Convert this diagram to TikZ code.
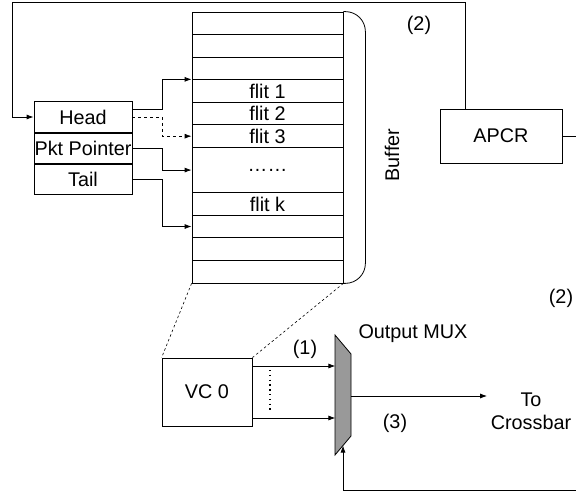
\documentclass[tikz,border=0pt]{standalone}
\usepackage{fontspec}
\setmainfont{Liberation Sans}
\usetikzlibrary{arrows.meta}

\begin{document}
\begin{tikzpicture}[
    x=1pt, y=-1pt,
    font=\fontsize{19.8}{23}\selectfont,
    line width=0.8pt,
    slot/.style={draw, minimum width=151pt, minimum height=22.58pt, inner sep=0pt},
    field/.style={draw, minimum width=98pt, minimum height=30.33pt, inner sep=0pt},
    blk/.style={draw, inner sep=0pt},
    arr/.style={-{Latex[length=7pt,width=5pt]}},
    guide/.style={dash pattern=on 2.5pt off 2.5pt, line width=0.6pt}
  ]
  \useasboundingbox (0,0) rectangle (576,492);

  % buffer slots
  \foreach \i/\t in {1/,2/,3/,4/flit 1,5/flit 2,6/flit 3,9/flit k,10/,11/,12/}
    \node[slot] (r\i) at (267.5,{12+22.58*(\i-0.5)}) {\t};
  \node[slot, minimum height=45.16pt] (r7) at (267.5,{12+22.58*7}) {……};
  \draw[rounded corners=20pt] (r1.north east) -| ([xshift=22pt]r7.east) |- (r12.south east);
  \node[rotate=90] (buflabel) at (392,155) {Buffer};

  % pointer fields
  \node[field] (head) at (83,117) {Head};
  \node[field, anchor=north] (pkt) at (head.south) {Pkt Pointer};
  \node[field, anchor=north] (tail) at (pkt.south) {Tail};

  \draw[arr] ([yshift=8pt]head.east) -- ++(30,0) |- (r4.north west);
  \draw[arr, dashed] (head.east) -- ++(30,0) |- (r6.west);
  \draw[arr] (pkt.east) -- ++(30,0) |- (r7.west);
  \draw[arr] (tail.east) -- ++(30,0) |- (r10.west);

  % APCR
  \node[blk, minimum width=122pt, minimum height=54pt] (apcr) at (501,136) {APCR};
  \coordinate (loop) at (12,2);
  \draw[arr] ([xshift=-36pt]apcr.north) |- (loop) |- (head.west);
  \coordinate (apcr-out) at (576,136);
  \draw (apcr.east) -- (apcr-out);
  \node (lbl2a) at (419,25) {(2)};
  \node (lbl2b) at (561,298) {(2)};

  % VC and mux
  \node[blk, minimum width=90pt, minimum height=68pt] (vc0) at (207,392) {VC 0};
  \draw[guide] (r12.south west) -- (vc0.north west);
  \draw[guide] (r12.south east) -- (vc0.north east);
  \draw[fill=black!40] (335,335) coordinate (mux-tl) -- (351,354) coordinate (mux-tr)
    -- (351,436) coordinate (mux-br) -- (335,455) coordinate (mux-bl) -- cycle;
  \node (muxlabel) at (413,334) {Output MUX};
  \node (lbl1) at (305,349) {(1)};
  \draw[arr] ([yshift=26pt]vc0.east) -- ++(83,0);
  \draw[arr] ([yshift=-26pt]vc0.east) -- ++(83,0);
  \draw[line width=1.3pt, dash pattern=on 1.3pt off 3.5pt] (270,370) -- (270,410);

  \coordinate (mux-out) at (351,396);
  \node[align=center] (xbar) at (531,411) {To\\Crossbar};
  \draw[arr] (mux-out) -- (mux-out -| xbar.west);
  \node (lbl3) at (395,423) {(3)};
  \coordinate (fb) at (576,490);
  \coordinate (mux-sel) at (343,445.5);
  \draw[arr] (fb) -| (mux-sel);
\end{tikzpicture}
\end{document}
